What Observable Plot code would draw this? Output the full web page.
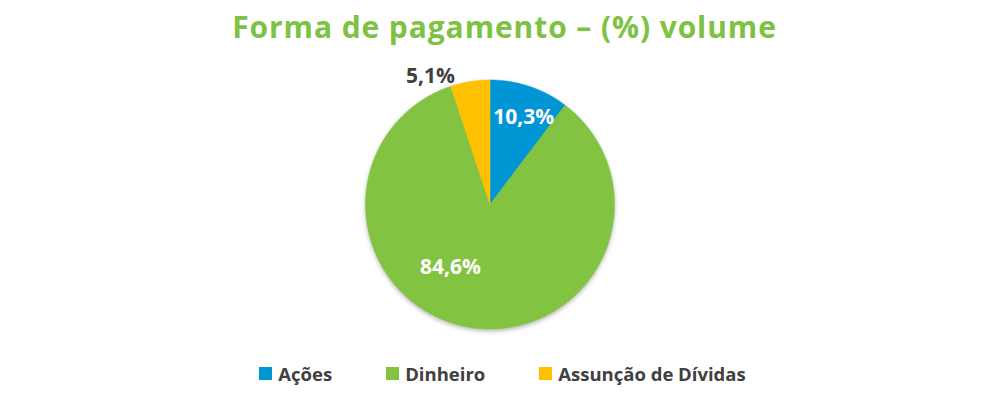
<!DOCTYPE html>
<html>
<head>
<meta charset="utf-8">
<script src="https://cdn.jsdelivr.net/npm/d3@7"></script>
<script src="https://cdn.jsdelivr.net/npm/@observablehq/plot@0.6"></script>
<style>
  html, body { margin: 0; padding: 0; background: #fff; }
  #wrap { width: 1005px; height: 400px; position: relative; overflow: hidden; font-family: "Open Sans", Lato, sans-serif; }
  #title { position: absolute; left: 0; top: 7px; width: 1005px; text-align: center; font-weight: 700; font-size: 30px; letter-spacing: 0.9px; color: #7DC242; line-height: 40px; padding-left: 2px; }
  #chart { position: absolute; left: 0; top: 60px; }
  #legend { position: absolute; left: 0; top: 357px; width: 1005px; display: flex; justify-content: center; }
  .lg-swatches { justify-content: center; font-family: "Open Sans", sans-serif !important; font-size: 18.5px !important; font-weight: 700; color: #404040 !important; min-height: 33px; }
  .lg-swatch { margin-right: 54px !important; }
  .lg-swatch:last-child { margin-right: 0 !important; }
  .lg-swatch > svg { margin-right: 6px !important; }
  #chart g[aria-label="line"] { filter: drop-shadow(0px 2px 2px rgba(0,0,0,0.28)); }
</style>
</head>
<body>
<div id="wrap">
  <div id="title">Forma de pagamento – (%) volume</div>
  <div id="chart"></div>
  <div id="legend"></div>
</div>
<script>
const categories = ["Ações", "Dinheiro", "Assunção de Dívidas"];
const values = [10.3, 84.6, 5.1];
const labels = ["10,3%", "84,6%", "5,1%"];
const colors = ["#0096D6", "#82C341", "#FFC000"];

const arcs = d3.pie().sort(null).value(d => d)(values);

// slice outlines built from the pie angles (clockwise from 12 o'clock)
const points = [];
arcs.forEach((a, i) => {
  const cat = categories[i];
  points.push({cat, x: 0, y: 0});
  const n = Math.max(2, Math.ceil((a.endAngle - a.startAngle) / (Math.PI / 360)));
  for (let k = 0; k <= n; k++) {
    const t = a.startAngle + (a.endAngle - a.startAngle) * k / n;
    points.push({cat, x: Math.sin(t), y: Math.cos(t)});
  }
  points.push({cat, x: 0, y: 0});
});

function labelPos(i, k) {
  const a = arcs[i];
  const m = (a.startAngle + a.endAngle) / 2;
  return [{x: k * Math.sin(m), y: k * Math.cos(m), label: labels[i]}];
}

const chart = Plot.plot({
  width: 1005,
  height: 290,
  marginLeft: 365,
  marginRight: 391,
  marginTop: 19.5,
  marginBottom: 21.5,
  x: {domain: [-1, 1], axis: null},
  y: {domain: [-1, 1], axis: null},
  color: {domain: categories, range: colors},
  style: {fontFamily: "'Open Sans', sans-serif", background: "transparent"},
  marks: [
    Plot.line(points, {x: "x", y: "y", z: "cat", fill: "cat", stroke: "cat", strokeWidth: 0.5, curve: "linear"}),
    Plot.text(labelPos(0, 0.75), {x: "x", y: "y", text: "label", fill: "white", fontSize: 21, fontWeight: 700, dx: 4, dy: 1}),
    Plot.text(labelPos(1, 0.62), {x: "x", y: "y", text: "label", fill: "white", fontSize: 21, fontWeight: 700, dx: -27, dy: -13}),
    Plot.text(labelPos(2, 1.14), {x: "x", y: "y", text: "label", fill: "#404040", fontSize: 21, fontWeight: 700, dx: -37, dy: 12})
  ]
});
document.getElementById("chart").appendChild(chart);

const legend = Plot.legend({
  color: {domain: categories, range: colors},
  swatchSize: 13,
  className: "lg"
});
document.getElementById("legend").appendChild(legend);
</script>
</body>
</html>
